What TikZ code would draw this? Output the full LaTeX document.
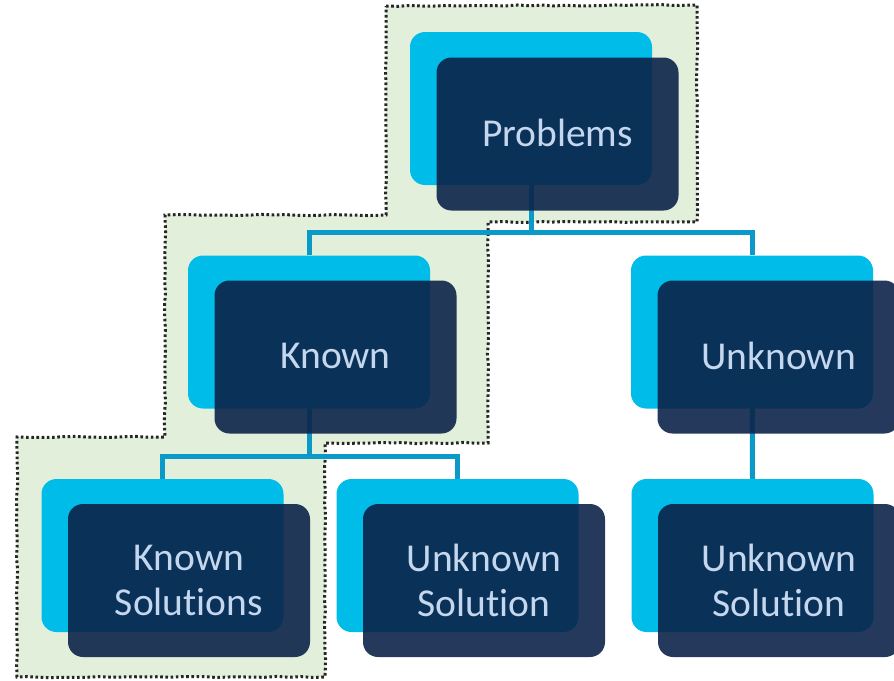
\documentclass[tikz,border=0pt]{standalone}
\usepackage{fontspec}
\setmainfont[Ligatures=NoCommon]{Carlito}
\usetikzlibrary{decorations.pathmorphing}
\definecolor{cyanbox}{HTML}{00BCE8}
\definecolor{darkbox}{HTML}{0C2449}
\definecolor{conncol}{HTML}{0B9AC8}
\definecolor{txtcol}{HTML}{C5D7EE}
\definecolor{greenbg}{HTML}{E2EFDA}
\pgfdeclarelayer{bg}
\pgfdeclarelayer{lines}
\pgfsetlayers{bg,lines,main}
\tikzset{
  backbox/.style={fill=cyanbox, rounded corners=15pt, minimum width=242pt, minimum height=153pt, inner sep=0pt},
  frontbox/.style={fill=darkbox, fill opacity=0.9, text opacity=1, text=txtcol, rounded corners=15pt,
    minimum width=242pt, minimum height=153pt, inner sep=0pt, align=center,
    font=\fontsize{39.5pt}{45pt}\selectfont},
  conn/.style={draw=conncol, line width=5pt},
  region/.style={fill=greenbg, draw=black!85, line width=3pt, dash pattern=on 2.6pt off 2.6pt,
    decorate, decoration={random steps, segment length=12pt, amplitude=0.6pt}}
}
\begin{document}
\begin{tikzpicture}[x=1pt,y=-1pt]
\useasboundingbox (0,0) rectangle (894,680);
\begin{pgfonlayer}{bg}
\path[region] (386,6) -- (697,5) -- (697,222) -- (488,222) -- (488,443) -- (325,443) -- (325,677)
  -- (17,677) -- (17,437) -- (165,437) -- (165,215) -- (386,215) -- cycle;
\end{pgfonlayer}
% back (cyan) boxes
\node[backbox] (pc) at (531,108.5) {};
\node[backbox] (kc) at (309,332) {};
\node[backbox] (uc) at (752,332) {};
\node[backbox] (ksc) at (162.5,555.5) {};
\node[backbox] (usc) at (457.5,555.5) {};
\node[backbox] (urc) at (752.5,555.5) {};
% front (dark) boxes
\node[frontbox] (p) at (557.5,134) {\raisebox{2pt}{Problems}};
\node[frontbox] (k) at (335.5,357) {\raisebox{2pt}{Known}};
\node[frontbox] (u) at (778.5,357) {\raisebox{2pt}{Unknown}};
\node[frontbox] (ks) at (189,580.5) {Known\\Solutions};
\node[frontbox] (us) at (484,580.5) {Unknown\\Solution};
\node[frontbox] (ur) at (779,580.5) {Unknown\\Solution};
\coordinate (j1) at (531,232);
\coordinate (j2) at (309,456);
\begin{pgfonlayer}{lines}
\draw[conn] (pc.center) -- (j1);
\draw[conn] (kc.north) |- (j1) -| (uc.north);
\draw[conn] (kc.center) -- (j2);
\draw[conn] (ksc.north) |- (j2) -| (usc.north);
\draw[conn] (uc.center) -- (urc.north);
\end{pgfonlayer}
\end{tikzpicture}
\end{document}
